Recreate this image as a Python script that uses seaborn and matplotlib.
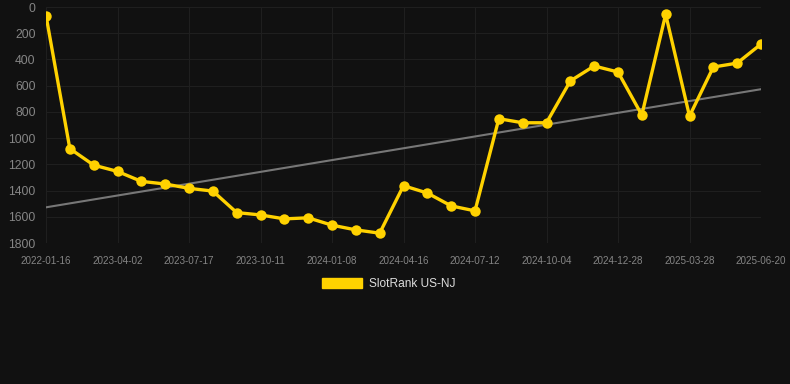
import numpy as np
import pandas as pd
import seaborn as sns
import matplotlib.pyplot as plt
from matplotlib.patches import Patch

tick_labels = ['2022-01-16', '2023-04-02', '2023-07-17', '2023-10-11', '2024-01-08',
               '2024-04-16', '2024-07-12', '2024-10-04', '2024-12-28', '2025-03-28',
               '2025-06-20']
rank = [65, 1080, 1206, 1254, 1330, 1350, 1383, 1404, 1568, 1586,
        1616, 1608, 1664, 1700, 1725, 1363, 1419, 1517, 1555, 852,
        883, 883, 564, 450, 496, 824, 56, 832, 458, 428, 283]

bg = '#111111'
grid = '#1f1f1f'
yellow = '#ffd200'

sns.set_style('dark', {'axes.facecolor': bg, 'figure.facecolor': bg,
                       'grid.color': grid, 'axes.edgecolor': bg})
plt.rcParams['font.family'] = ['Liberation Sans', 'DejaVu Sans']

data = pd.DataFrame({'idx': np.arange(len(rank)), 'rank': rank})
slope, icpt = np.polyfit(data['idx'], data['rank'], 1)
data['trend'] = icpt + slope * data['idx']

fig = plt.figure(figsize=(7.9, 3.84), dpi=100)
ax = fig.add_axes([46/790, 1 - 243/384, 715/790, 236/384])

sns.lineplot(data=data, x='idx', y='trend', ax=ax, color='#777777', linewidth=1.5)
sns.lineplot(data=data, x='idx', y='rank', ax=ax, color=yellow, linewidth=2.4,
             marker='o', markersize=7.5, markeredgewidth=0)

ax.set_xlim(0, len(rank) - 1)
ax.set_ylim(1800, 0)
ax.set_yticks(range(0, 1801, 200))
ax.set_xticks(range(0, len(rank), 3))
ax.set_xticklabels(tick_labels)
ax.set_xlabel('')
ax.set_ylabel('')
ax.grid(True, color=grid, linewidth=0.8)
ax.tick_params(axis='y', colors='#858585', labelsize=8.7, length=6, pad=1.5, color=grid)
ax.tick_params(axis='x', colors='#858585', labelsize=7.1, length=6, pad=3, color=grid)
for s in ax.spines.values():
    s.set_visible(False)

fig.legend(handles=[Patch(color=yellow, label='SlotRank US-NJ')], loc='center',
           bbox_to_anchor=(0.492, 1 - 284/384), frameon=False, fontsize=8.6,
           labelcolor='#dddddd', handlelength=3.3, handleheight=1.0, handletextpad=0.6)

fig.savefig('out.png', dpi=100, facecolor=bg)
